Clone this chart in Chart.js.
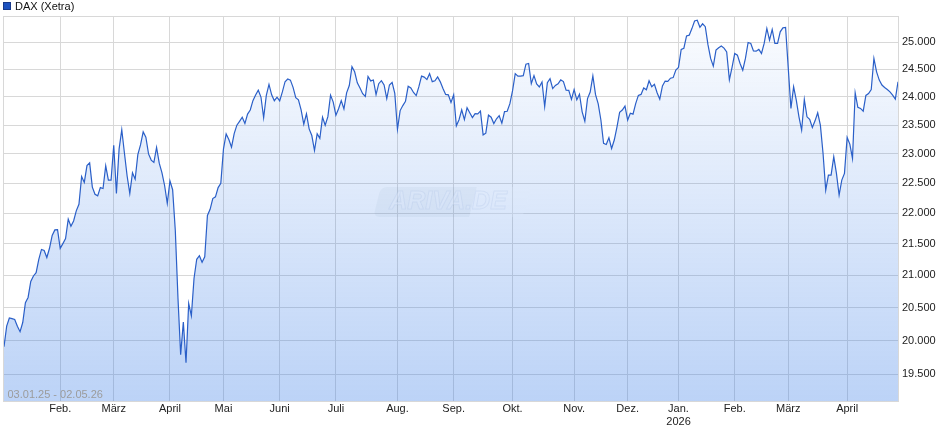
<!DOCTYPE html>
<html>
<head>
<meta charset="utf-8">
<script src="https://cdn.jsdelivr.net/npm/chart.js@4/dist/chart.umd.min.js"></script>
<style>
  html, body { margin: 0; padding: 0; background: #fff; }
  #wrap { width: 940px; height: 435px; position: relative; }
</style>
</head>
<body>
<div id="wrap"><canvas id="chart"></canvas></div>
<script>
// ============================
// DATA  (DAX Xetra closes, one per trading day, 03.01.25 - 30.04.26)
// ============================
const seriesLabel = "DAX (Xetra)";
const rangeLabel = "03.01.25 - 02.05.26";

const close2025 = [
  // Jan
  19906, 20217, 20340, 20330, 20317, 20215, 20133, 20271, 20575, 20655, 20903,
  20990, 21042, 21254, 21411, 21394, 21282, 21430, 21637, 21727, 21732,
  // Feb
  21428, 21505, 21586, 21902, 21787, 21873, 22038, 22148, 22612, 22513,
  22798, 22844, 22434, 22314, 22287, 22426, 22410, 22794, 22551, 22551,
  // Mar
  23147, 22327, 23081, 23419, 23009, 22621, 22329, 22676, 22567, 22987, 23154,
  23381, 23288, 22999, 22892, 22852, 23109, 22839, 22679, 22461, 22163,
  // Apr
  22539, 22390, 21717, 20642, 19790, 20280, 19670, 20563, 20374, 20954,
  21254, 21311, 21206, 21294, 21962, 22064, 22242, 22271, 22426, 22497,
  // May
  23087, 23345, 23249, 23116, 23352, 23499, 23567, 23638, 23527, 23695, 23767,
  23934, 24036, 24122, 23999, 23630, 24027, 24226, 24039, 23933, 23997,
  // Jun
  23930, 24091, 24276, 24324, 24304, 24174, 23987, 23948, 23771, 23516, 23699,
  23434, 23317, 23057, 23350, 23269, 23641, 23498, 23649, 24033, 23909,
  // Jul
  23673, 23790, 23934, 23787, 24073, 24206, 24549, 24456, 24255, 24160, 24060, 24009,
  24370, 24290, 24307, 24042, 24240, 24295, 24217, 23970, 24217, 24262, 24065,
  // Aug
  23426, 23757, 23846, 23924, 24193, 24163, 24081, 24024, 24186, 24377, 24359,
  24314, 24423, 24277, 24293, 24363, 24273, 24152, 24046, 24039, 23902,
  // Sep
  24037, 23487, 23595, 23770, 23597, 23807, 23718, 23633, 23703, 23698, 23748,
  23329, 23359, 23675, 23639, 23527, 23611, 23666, 23534, 23739, 23745, 23880,
  // Oct
  24113, 24423, 24378, 24378, 24385, 24597, 24611, 24241, 24387, 24236, 24181, 24272,
  23830, 24258, 24330, 24151, 24208, 24239, 24309, 24279, 24124, 24119, 23958,
  // Nov
  24132, 23949, 24050, 23734, 23569, 23970, 24088, 24381, 24041, 23877,
  23590, 23180, 23162, 23278, 23091, 23239, 23465, 23726, 23767, 23836,
  // Dec
  23589, 23710, 23693, 23882, 24028, 24046, 24162, 24130, 24294, 24186,
  24229, 24077, 23960, 24199, 24288, 24283, 24340, 24351, 24490
];

const close2026 = [
  // Jan
  24539, 24868, 24892, 25122, 25137, 25261, 25405, 25420, 25286, 25352, 25297,
  24959, 24703, 24560, 24856, 24900, 24933, 24894, 24822, 24309, 24538,
  // Feb
  24795, 24764, 24610, 24487, 24702, 25000, 24981, 24843, 24837, 24870,
  24795, 24981, 25263, 25043, 25244, 24981, 24981, 25200, 25275, 25281,
  // Mar
  24524, 23795, 24183, 23943, 23646, 23412, 23956, 23646, 23601, 23459, 23575,
  23717, 23500, 23006, 22384, 22636, 22636, 22949, 22666, 22300, 22551, 22666,
  // Apr
  23284, 23168, 22921, 24075, 23814, 23795, 23747, 24028, 24063, 24135,
  24702, 24456, 24305, 24215, 24172, 24135, 24092, 24034, 23962, 24274
];

const daxClose = close2025.concat(close2026);

// first trading day of each month (index into daxClose) and its label
const monthStartIdx = [21, 41, 62, 82, 103, 124, 147, 168, 190, 213, 233, 252, 273, 293, 315];
const monthLabels = ["Feb.", "März", "April", "Mai", "Juni", "Juli", "Aug.", "Sep.",
                     "Okt.", "Nov.", "Dez.", ["Jan.", "2026"], "Feb.", "März", "April"];

const yTicks = [19500, 20000, 20500, 21000, 21500, 22000, 22500, 23000, 23500, 24000, 24500, 25000];

// ============================
// HELPERS
// ============================
const FONT = "'Liberation Sans', Arial, sans-serif";

function formatDe(v) {
  return String(v).replace(/\B(?=(\d{3})+(?!\d))/g, ".");
}

function areaFill(ctx) {
  const area = ctx.chart.chartArea;
  if (!area) return "rgba(50,120,230,0.15)";
  const g = ctx.chart.ctx.createLinearGradient(0, area.top, 0, area.bottom);
  g.addColorStop(0, "rgba(50,120,230,0.02)");
  g.addColorStop(1, "rgba(50,120,230,0.33)");
  return g;
}

// legend, border, range text and watermark
const decor = {
  id: "decor",
  beforeDatasetsDraw(chart) {
    const c = chart.ctx;
    c.save();
    c.translate(451, 202);
    c.transform(1, 0, -0.25, 1, 0, 0);
    c.fillStyle = "rgba(120,135,160,0.07)";
    c.beginPath();
    c.roundRect(-74, -15, 96, 30, [6, 0, 0, 6]);
    c.fill();
    c.fillStyle = "rgba(255,255,255,0.28)";
    c.beginPath();
    c.roundRect(22, -15, 54, 30, [0, 6, 6, 0]);
    c.fill();
    c.restore();
    c.save();
    c.font = "italic bold 25px " + FONT;
    c.textAlign = "center";
    c.textBaseline = "middle";
    c.fillStyle = "rgba(255,255,255,0.42)";
    c.strokeStyle = "rgba(150,170,205,0.15)";
    c.lineWidth = 1;
    c.fillText("ARIVA.DE", 448, 202);
    c.strokeText("ARIVA.DE", 448, 202);
    c.restore();
  },
  afterDatasetsDraw(chart) {
    const c = chart.ctx, a = chart.chartArea;
    c.save();
    c.strokeStyle = "#d8d8d8";
    c.lineWidth = 1;
    c.strokeRect(a.left - 0.5, a.top + 0.5, a.right - a.left + 1, a.bottom - a.top - 1);
    c.font = "11px " + FONT;
    c.fillStyle = "#9c9c9c";
    c.textBaseline = "middle";
    c.fillText(rangeLabel, 7.5, 395);
    c.restore();
  },
  afterDraw(chart) {
    const c = chart.ctx;
    c.save();
    c.fillStyle = "#1d52c0";
    c.fillRect(3, 2, 8, 8);
    c.strokeStyle = "#18398a";
    c.lineWidth = 1;
    c.strokeRect(3.5, 2.5, 7, 7);
    c.font = "11px " + FONT;
    c.fillStyle = "#111";
    c.textBaseline = "middle";
    c.fillText(seriesLabel, 15, 7);
    c.restore();
  }
};

// ============================
// CHART
// ============================
new Chart(document.getElementById("chart"), {
  type: "line",
  data: {
    datasets: [{
      label: seriesLabel,
      data: daxClose.map((v, i) => ({ x: i, y: v })),
      borderColor: "#2a5fc8",
      borderWidth: 1.2,
      pointRadius: 0,
      tension: 0,
      fill: "start",
      backgroundColor: areaFill
    }]
  },
  options: {
    responsive: true,
    maintainAspectRatio: false,
    animation: false,
    layout: { padding: { left: 4, right: 0, top: 16, bottom: 0 } },
    plugins: {
      legend: { display: false },
      tooltip: { enabled: false }
    },
    scales: {
      x: {
        type: "linear",
        min: 0,
        max: daxClose.length - 1,
        bounds: "data",
        grid: { color: "#d8d8d8", drawTicks: false },
        border: { display: false },
        afterBuildTicks: s => { s.ticks = monthStartIdx.map(v => ({ value: v })); },
        afterFit: s => { s.height = 33; },
        ticks: {
          autoSkip: false,
          maxRotation: 0,
          minRotation: 0,
          padding: 1,
          color: "#222",
          font: { family: FONT, size: 11, lineHeight: 1.15 },
          callback: (v, i) => monthLabels[i]
        }
      },
      y: {
        type: "logarithmic",
        position: "right",
        min: 19100,
        max: 25500,
        bounds: "data",
        grid: { color: "#d8d8d8", drawTicks: false },
        border: { display: false },
        afterBuildTicks: s => { s.ticks = yTicks.map(v => ({ value: v })); },
        afterFit: s => { s.width = 42; },
        ticks: {
          padding: 4,
          color: "#222",
          font: { family: FONT, size: 11 },
          callback: v => formatDe(v)
        }
      }
    }
  },
  plugins: [decor]
});
</script>
</body>
</html>
